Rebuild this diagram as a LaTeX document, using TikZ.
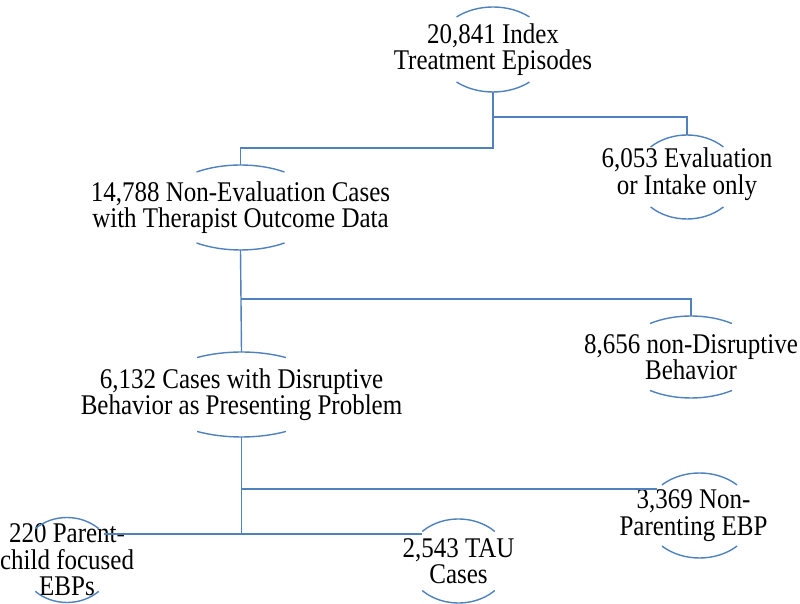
\documentclass[tikz,border=0pt]{standalone}
\usepackage{fontspec}
\setmainfont{Liberation Serif}
\usepackage{tikz}
\usetikzlibrary{shapes.geometric, positioning}
\definecolor{capblue}{RGB}{79,129,189}

% top and bottom arcs of an oval: node, x radius, y radius, angle
\newcommand{\ovalcaps}[4]{%
  \pgfmathsetmacro\capend{180-#4}%
  \pgfmathsetmacro\capstart{180+#4}%
  \pgfmathsetmacro\caplast{360-#4}%
  \draw[flow] ([shift={(#4:#2 and #3)}]#1.center) arc[start angle=#4, end angle=\capend, x radius=#2, y radius=#3];
  \draw[flow] ([shift={(\capstart:#2 and #3)}]#1.center) arc[start angle=\capstart, end angle=\caplast, x radius=#2, y radius=#3];}

\begin{document}
\begin{tikzpicture}[x=1pt, y=1pt,
  flow/.style={draw=capblue, line width=1.4pt},
  oval/.style={ellipse, inner sep=0pt, outer sep=0pt},
  txt/.style={align=center, inner sep=0pt, yscale=1.14, transform shape,
    font=\fontsize{25}{23.3}\selectfont}]
  \useasboundingbox (0,0) rectangle (800,604);

  \node[oval, minimum width=113, minimum height=85] (idx) at (493,554.5) {};
  \node[txt] (idxt) at (idx) {20,841 Index\\Treatment Episodes};
  \ovalcaps{idx}{56.7}{42.5}{50}

  \node[oval, minimum width=104, minimum height=84] (eval) at (687,427) {};
  \node[txt] (evalt) at ([yshift=3]eval) {6,053 Evaluation\\or Intake only};
  \ovalcaps{eval}{52}{42}{45.6}

  \node[oval, minimum width=160, minimum height=85] (noneval) at (240.5,396.5) {};
  \node[txt] (nonevalt) at (noneval) {14,788 Non-Evaluation Cases\\with Therapist Outcome Data};
  \ovalcaps{noneval}{80}{42.5}{56.6}

  \node[oval, minimum width=142, minimum height=82] (nondis) at (691,247) {};
  \node[txt] (nondist) at (nondis) {8,656 non-Disruptive\\Behavior};
  \ovalcaps{nondis}{71}{41}{54.8}

  \node[oval, minimum width=180, minimum height=85] (dis) at (241.5,209.5) {};
  \node[txt] (dist) at (dis) {6,132 Cases with Disruptive\\Behavior as Presenting Problem};
  \ovalcaps{dis}{90}{42.5}{60.5}

  \node[oval, minimum width=108, minimum height=85] (nonpar) at (699.5,88.5) {};
  \node[txt] (nonpart) at ([xshift=-6]nonpar) {3,369 Non-\\Parenting EBP};
  \ovalcaps{nonpar}{54}{42.5}{45.9}

  \node[oval, minimum width=94, minimum height=85] (pcf) at (67,44) {};
  \node[txt] (pcft) at (pcf) {220 Parent-\\child focused\\EBPs};
  \ovalcaps{pcf}{47}{42.5}{47.5}

  \node[oval, minimum width=102, minimum height=84] (tau) at (458.5,43) {};
  \node[txt] (taut) at (tau) {2,543 TAU\\Cases};
  \ovalcaps{tau}{51}{42}{44.6}

  \draw[flow] (idx.south) -- ++(0,-56) -| (noneval.north);
  \draw[flow] (idx.south) ++(0,-25) -| (eval.north);

  \draw[flow] (noneval.south) -- (dis.north);
  \draw[flow] (noneval.south) ++(0,-49) -| (nondis.north);

  \draw[flow] (dis.south) -- (dis.south |- pcf.35);
  \draw[flow] (dis.south |- nonpar.148) -- (nonpar.148);
  \draw[flow] (pcf.35) -- (pcf.35 -| tau.142);
\end{tikzpicture}
\end{document}
